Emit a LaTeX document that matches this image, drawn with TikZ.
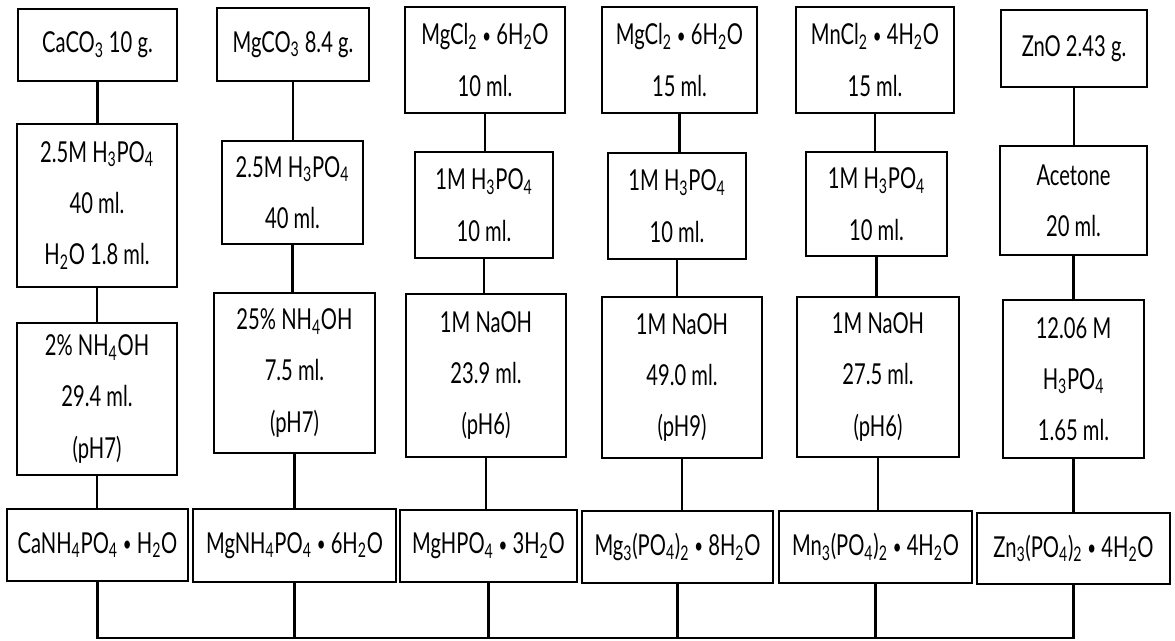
\documentclass[tikz,border=0pt]{standalone}
\usepackage{fontspec}
\newfontfamily\labelfont[FakeStretch=0.7]{Lato}
\usepackage{tikz}
\newcommand{\dn}[1]{\textsubscript{#1}}
\newcommand{\bul}{\raisebox{0.12ex}{\scalebox{0.75}{\textbullet}}}
\tikzset{
  box/.style={rectangle, draw=black, line width=2.1pt, fill=white, align=center, inner sep=0pt, font=\labelfont\fontsize{20.5}{36.5}\selectfont},
  boxsize/.style 2 args={minimum width=#1*0.025cm, minimum height=#2*0.025cm},
  link/.style={line width=1.7pt, draw=black}
}
\begin{document}
\begin{tikzpicture}[x=0.025cm, y=-0.025cm]
\useasboundingbox (0,0) rectangle (1175,640);
\node[box, boxsize={159}{72}] (ca1) at (97.5,45) {CaCO\dn{3} 10 g.};
\node[box, boxsize={160}{163}] (ca2) at (97,205.5) {2.5M H\dn{3}PO\dn{4}\\40 ml.\\H\dn{2}O 1.8 ml.};
\node[box, boxsize={160}{152}] (ca3) at (97,399) {2\% NH\dn{4}OH\\29.4 ml.\\(pH7)};
\node[box, boxsize={181}{72}] (caP) at (97.5,545) {CaNH\dn{4}PO\dn{4} \bul{} H\dn{2}O};
\node[box, boxsize={152}{73}] (mgco1) at (293,44.5) {MgCO\dn{3} 8.4 g.};
\node[box, boxsize={141}{103}] (mgco2) at (292.5,192.5) {2.5M H\dn{3}PO\dn{4}\\40 ml.};
\node[box, boxsize={161}{160}] (mgco3) at (294.5,373) {25\% NH\dn{4}OH\\7.5 ml.\\(pH7)};
\node[box, boxsize={203}{73}] (mgcoP) at (294.5,545.5) {MgNH\dn{4}PO\dn{4} \bul{} 6H\dn{2}O};
\node[box, boxsize={160}{106}] (mga1) at (485,60) {MgCl\dn{2} \bul{} 6H\dn{2}O\\10 ml.};
\node[box, boxsize={138}{106}] (mga2) at (484,205) {1M H\dn{3}PO\dn{4}\\10 ml.};
\node[box, boxsize={160}{163}] (mga3) at (486,375.5) {1M NaOH\\23.9 ml.\\(pH6)};
\node[box, boxsize={177}{72}] (mgaP) at (488.5,546) {MgHPO\dn{4} \bul{} 3H\dn{2}O};
\node[box, boxsize={155}{106}] (mgb1) at (679.5,60) {MgCl\dn{2} \bul{} 6H\dn{2}O\\15 ml.};
\node[box, boxsize={138}{106}] (mgb2) at (677,206) {1M H\dn{3}PO\dn{4}\\10 ml.};
\node[box, boxsize={160}{161}] (mgb3) at (682,377.5) {1M NaOH\\49.0 ml.\\(pH9)};
\node[box, boxsize={191}{72}] (mgbP) at (677.5,547) {Mg\dn{3}(PO\dn{4})\dn{2} \bul{} 8H\dn{2}O};
\node[box, boxsize={158}{106}] (mn1) at (875,60) {MnCl\dn{2} \bul{} 4H\dn{2}O\\15 ml.};
\node[box, boxsize={141}{104}] (mn2) at (876.5,204) {1M H\dn{3}PO\dn{4}\\10 ml.};
\node[box, boxsize={162}{160}] (mn3) at (878,377) {1M NaOH\\27.5 ml.\\(pH6)};
\node[box, boxsize={193}{72}] (mnP) at (875.5,547) {Mn\dn{3}(PO\dn{4})\dn{2} \bul{} 4H\dn{2}O};
\node[box, boxsize={146}{77}] (zn1) at (1074,48.5) {ZnO 2.43 g.};
\node[box, boxsize={147}{109}] (zn2) at (1073.5,200.5) {Acetone\\20 ml.};
\node[box, boxsize={141}{158}] (zn3) at (1073.5,379) {12.06 M\\H\dn{3}PO\dn{4}\\1.65 ml.};
\node[box, boxsize={193}{71}] (znP) at (1073.5,548.5) {Zn\dn{3}(PO\dn{4})\dn{2} \bul{} 4H\dn{2}O};
\foreach \c in {ca,mgco,mga,mgb,mn,zn}{
  \draw[link] (\c1.south) -- (\c1.south |- \c2.north);
  \draw[link] (\c2.south) -- (\c2.south |- \c3.north);
  \draw[link] (\c3.south) -- (\c3.south |- \c P.north);
}
\coordinate (bus) at (0,638);
\draw[link] (caP.south) |- (znP.south |- bus) -- (znP.south);
\foreach \c in {mgcoP,mgaP,mgbP,mnP}
  \draw[link] (\c.south) -- (\c.south |- bus);
\end{tikzpicture}
\end{document}
